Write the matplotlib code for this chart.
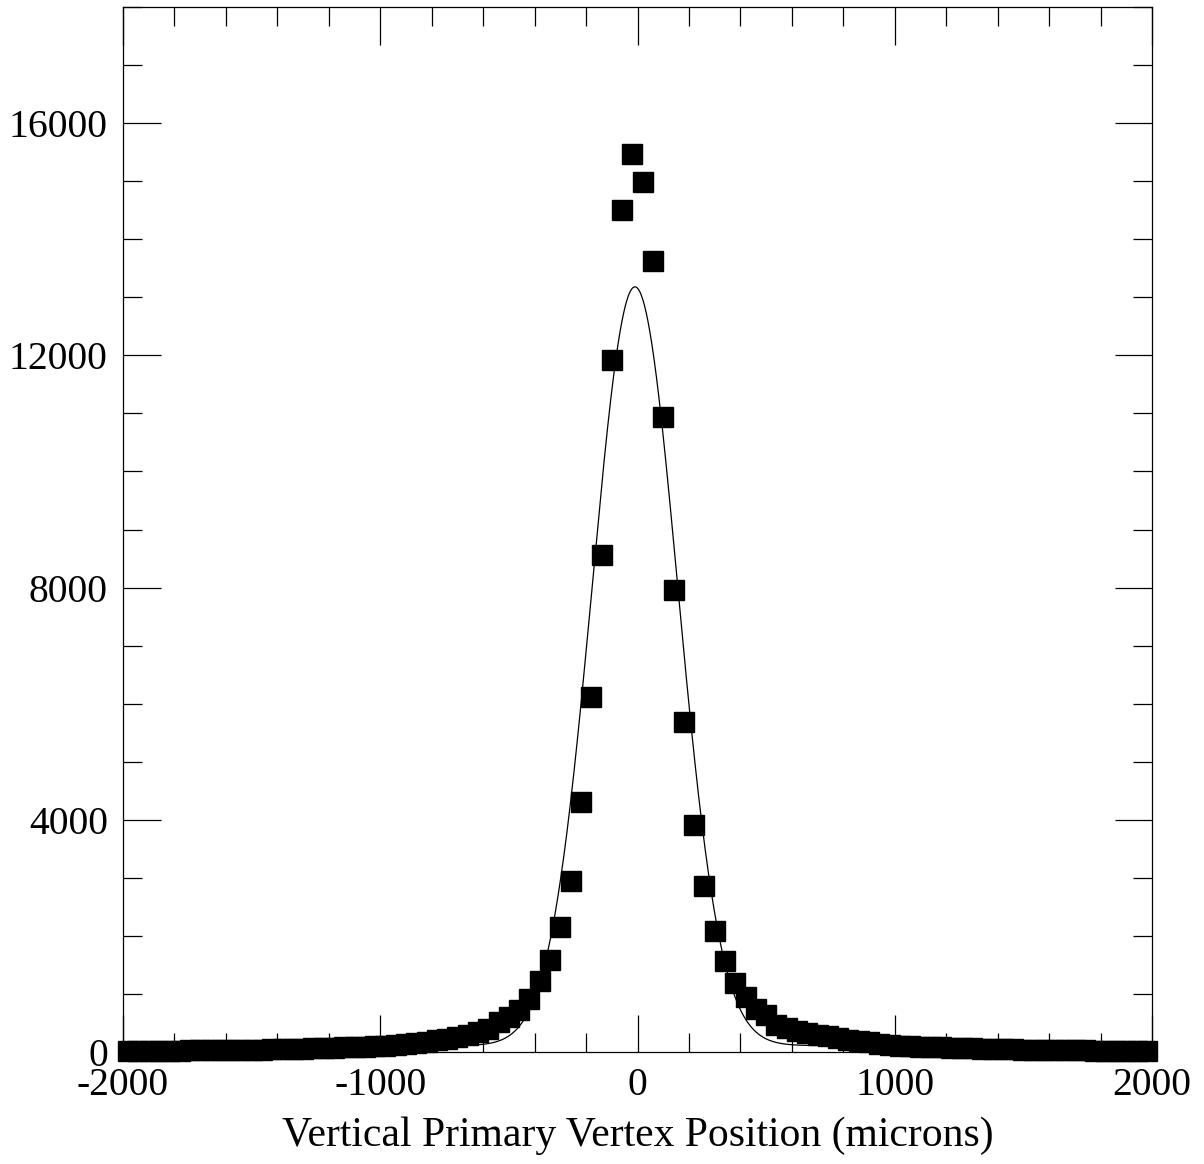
import numpy as np
import matplotlib
matplotlib.use("Agg")
import matplotlib.pyplot as plt
from matplotlib.ticker import MultipleLocator

# Bin centres (microns) and counts
x_left = [-1980, -1940, -1900, -1860, -1820, -1780, -1740, -1700, -1660, -1620,
          -1580, -1540, -1500, -1460, -1420, -1380, -1340, -1300, -1260, -1220,
          -1180, -1140, -1100, -1060, -1020, -980, -940, -900, -860, -820,
          -780, -740, -700, -660, -620, -580, -540, -500, -460, -420,
          -380, -340, -300, -260, -220, -180, -140, -100, -60, -20]
y_left = [20, 21, 22, 23, 24, 26, 27, 29, 31, 33,
          35, 37, 40, 43, 46, 50, 54, 58, 63, 68,
          73, 79, 86, 94, 102, 112, 125, 140, 158, 180,
          205, 230, 260, 295, 340, 400, 510, 600, 730, 905,
          1225, 1585, 2160, 2945, 4300, 6120, 8560, 11920, 14500, 15470]
x_right = [20, 60, 100, 140, 180, 220, 260, 300, 340, 380,
           420, 460, 500, 540, 580, 620, 660, 700, 740, 780,
           820, 860, 900, 940, 980, 1020, 1060, 1100, 1140, 1180,
           1220, 1260, 1300, 1340, 1380, 1420, 1460, 1500, 1540, 1580,
           1620, 1660, 1700, 1740, 1780, 1820, 1860, 1900, 1940, 1980]
y_right = [14990, 13620, 10930, 7960, 5680, 3910, 2860, 2080, 1570, 1190,
           945, 745, 630, 470, 410, 370, 335, 300, 270, 245,
           215, 190, 165, 145, 125, 112, 102, 94, 86, 79,
           72, 67, 62, 58, 54, 50, 46, 43, 40, 37,
           34, 32, 30, 28, 26, 24, 23, 22, 21, 20]

# Gaussian fit parameters (amplitude, mean, sigma, background)
fit_amp = 13070
fit_mean = -10
fit_sigma = 166
fit_bg = 110

xticks = [-2000, -1000, 0, 1000, 2000]
yticks = [0, 4000, 8000, 12000, 16000]

plt.rcParams['font.family'] = ['Liberation Serif', 'DejaVu Serif']
plt.rcParams['axes.unicode_minus'] = False

fig = plt.figure(figsize=(12.04, 11.64), dpi=100)
ax = fig.add_axes([0.1022, 0.0962, 0.9568 - 0.1022, 0.994 - 0.0962])

xs = np.array(x_left + x_right)
ys = np.array(y_left + y_right)
ax.plot(xs, ys, linestyle='none', marker='s', markersize=15, color='black',
        clip_on=False, zorder=3)

xf = np.linspace(-2000, 2000, 2001)
yf = fit_bg + fit_amp * np.exp(-0.5 * ((xf - fit_mean) / fit_sigma) ** 2)
ax.plot(xf, yf, color='black', linewidth=0.9, zorder=4)

ax.set_xlim(-2000, 2000)
ax.set_ylim(0, 18000)
ax.set_xticks(xticks)
ax.set_yticks(yticks)
ax.set_xticklabels([str(v) for v in xticks])
ax.set_yticklabels([str(v) for v in yticks])
ax.xaxis.set_minor_locator(MultipleLocator(200))
ax.yaxis.set_minor_locator(MultipleLocator(1000))
ax.tick_params(which='both', direction='in', top=True, right=True,
               labelsize=28.5, width=0.9, color='black')
ax.tick_params(which='major', length=27)
ax.tick_params(which='minor', length=14)
ax.tick_params(axis='x', which='major', pad=11)
ax.tick_params(axis='y', which='major', pad=11)
for s in ax.spines.values():
    s.set_linewidth(0.9)

ax.set_xlabel('Vertical Primary Vertex Position (microns)', fontsize=30, labelpad=9)

fig.savefig('out.png', dpi=100)
